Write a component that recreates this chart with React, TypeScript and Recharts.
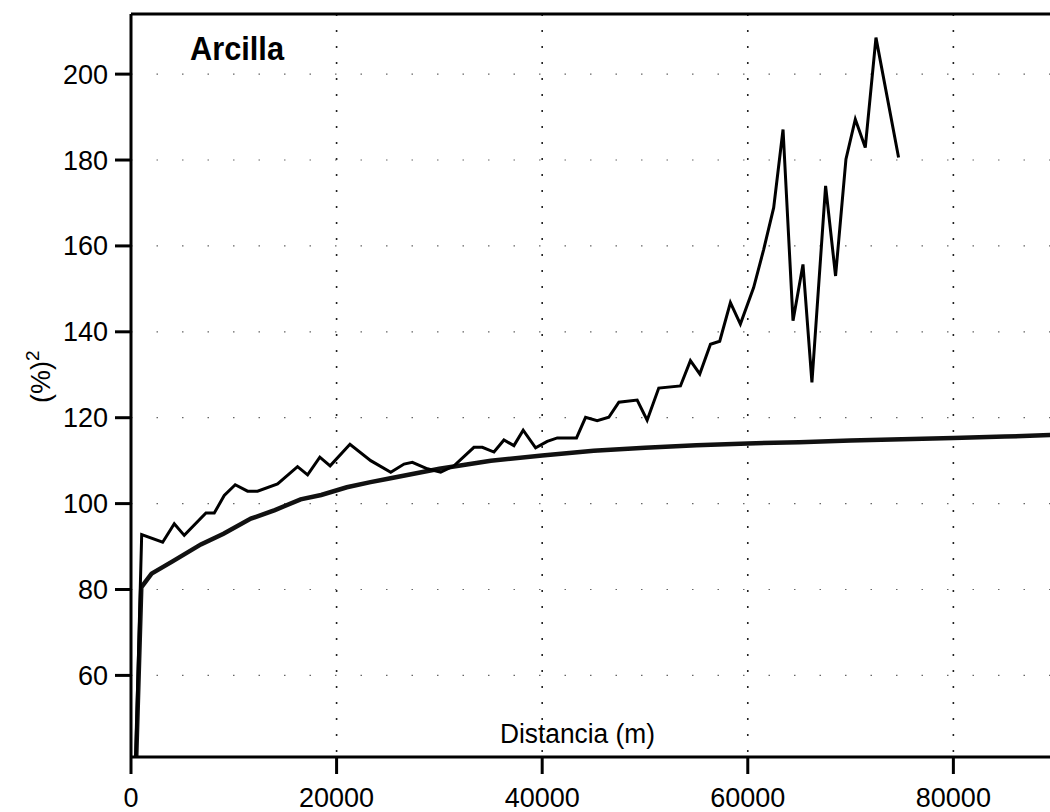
import { LineChart, Line, XAxis, YAxis, CartesianGrid, ReferenceLine } from 'recharts';

// experimental semivariogram (distance in m, gamma in %^2)
const expDist = [
  0, 1040, 3080, 4210, 5180, 7290, 8100, 9070, 10140, 11340, 12310, 14260, 16200, 17180, 18370,
  19370, 21300, 23320, 25270, 26560, 27370, 28830, 30130, 31420, 33360, 34180, 35310, 36280,
  37250, 38150, 39360, 40490, 41470, 43340, 44220, 45350, 46480, 47460, 49240, 50210, 51340,
  53450, 54420, 55330, 56370, 57270, 58310, 59280, 60570, 61550, 62520, 63430, 64400, 65370,
  66240, 67570, 68540, 69550, 70460, 71430, 72470, 74670,
];
const expGamma = [
  0, 92.8, 91.0, 95.3, 92.6, 97.8, 97.8, 101.9, 104.4, 102.9, 102.9, 104.6, 108.6, 106.7, 110.8,
  108.8, 113.8, 110.0, 107.3, 109.2, 109.6, 108.1, 107.3, 108.8, 113.1, 113.1, 112.0, 114.8,
  113.5, 117.1, 113.0, 114.5, 115.3, 115.3, 120.1, 119.3, 120.1, 123.6, 124.1, 119.4, 126.9,
  127.4, 133.3, 130.2, 137.1, 137.8, 146.8, 141.8, 150.3, 159.2, 168.9, 187.1, 142.6, 155.7,
  128.2, 174.0, 153.0, 180.2, 189.5, 182.9, 208.5, 180.6,
];

// fitted model
const modelDist = [
  0, 1000, 2000, 4000, 6800, 9000, 11660, 14000, 16500, 18500, 21000, 23300, 25000, 30000, 35000,
  40000, 45000, 50000, 55000, 60000, 65000, 70000, 75000, 80000, 85000, 90000,
];
const modelGamma = [
  0, 80.5, 83.7, 86.5, 90.5, 93.0, 96.5, 98.5, 101.0, 102.0, 103.8, 105.0, 105.8, 108.1, 110.0,
  111.2, 112.3, 113.0, 113.6, 114.0, 114.3, 114.7, 115.0, 115.3, 115.6, 116.0,
];

const xTicks = [0, 20000, 40000, 60000, 80000];
const yTicks = [60, 80, 100, 120, 140, 160, 180, 200];

const expData = expDist.map((d, i) => ({ d, v: expGamma[i] }));
const modelData = modelDist.map((d, i) => ({ d, v: modelGamma[i] }));

const font = "'Liberation Sans', Arial, sans-serif";

const XTick = (props: any) => {
  const { x, y, payload } = props;
  return (
    <text x={x} y={y} dy={20} textAnchor="middle" fontSize={27} fontFamily={font} fill="#000">
      {payload.value}
    </text>
  );
};

const YTick = (props: any) => {
  const { x, y, payload } = props;
  return (
    <text x={x} y={y} dy={9.5} textAnchor="end" fontSize={27} fontFamily={font} fill="#000">
      {payload.value}
    </text>
  );
};

export default function App() {
  return (
    <div style={{ position: 'absolute', left: 0, top: 0, width: 1050, height: 812, background: '#fff' }}>
      <LineChart width={1050} height={812} margin={{ top: 14, right: 0, bottom: 0, left: 0 }}>
        <CartesianGrid horizontal={false} stroke="#222" strokeWidth={1.6} strokeDasharray="2 14" verticalValues={[20000, 40000, 60000, 80000]} />
        <CartesianGrid vertical={false} stroke="#666" strokeWidth={1.2} strokeDasharray="1.5 24" horizontalValues={yTicks} />
        <XAxis
          dataKey="d"
          type="number"
          domain={[0, 89400]}
          allowDataOverflow
          ticks={xTicks}
          height={55}
          tickSize={17}
          tickMargin={13}
          axisLine={{ stroke: '#000', strokeWidth: 3 }}
          tickLine={{ stroke: '#000', strokeWidth: 3 }}
          tick={<XTick />}
        />
        <YAxis
          type="number"
          domain={[41, 214]}
          allowDataOverflow
          ticks={yTicks}
          width={131}
          tickSize={16}
          tickMargin={7}
          axisLine={{ stroke: '#000', strokeWidth: 3 }}
          tickLine={{ stroke: '#000', strokeWidth: 3 }}
          tick={<YTick />}
        />
        <ReferenceLine y={214} stroke="#000" strokeWidth={3} />
        <Line data={modelData} dataKey="v" type="linear" stroke="#111" strokeWidth={4.5} dot={false} isAnimationActive={false} />
        <Line data={expData} dataKey="v" type="linear" stroke="#000" strokeWidth={3} dot={false} isAnimationActive={false} />
      </LineChart>
      <svg width={1050} height={812} style={{ position: 'absolute', left: 0, top: 0, pointerEvents: 'none' }}>
        <text x={190} y={60} fontFamily={font} fontWeight="bold" fontSize={34} textLength={94} lengthAdjust="spacingAndGlyphs" fill="#000">
          Arcilla
        </text>
        <text x={500} y={743} fontFamily={font} fontSize={27} textLength={155} lengthAdjust="spacingAndGlyphs" fill="#000">
          Distancia (m)
        </text>
        <text x={50} y={403} transform="rotate(-90, 50, 403)" fontFamily={font} fontSize={27} fill="#000">
          (%)<tspan dy={-11} fontSize={19}>2</tspan>
        </text>
      </svg>
    </div>
  );
}
